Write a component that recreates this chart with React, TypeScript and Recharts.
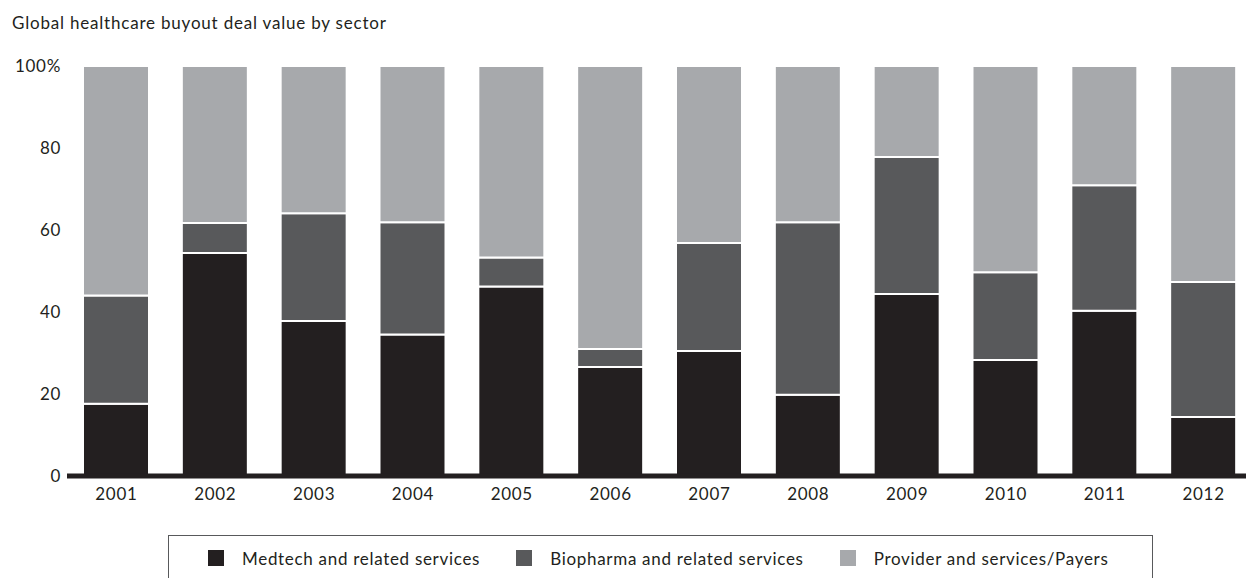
import React from 'react';
import { BarChart, Bar, XAxis, YAxis } from 'recharts';

const YEARS = ['2001', '2002', '2003', '2004', '2005', '2006', '2007', '2008', '2009', '2010', '2011', '2012'];
const MEDTECH = [17.6, 54.4, 37.8, 34.5, 46.2, 26.6, 30.5, 19.8, 44.4, 28.3, 40.3, 14.4];
const BIOPHARMA = [26.4, 7.3, 26.3, 27.4, 7.1, 4.4, 26.3, 42.1, 33.4, 21.4, 30.6, 32.9];
const PROVIDER = [56.0, 38.3, 35.9, 38.1, 46.7, 69.0, 43.2, 38.1, 22.2, 50.3, 29.1, 52.7];
const Y_TICKS = [0, 20, 40, 60, 80, 100];

const SERIES = [
  { key: 'medtech', name: 'Medtech and related services', color: '#231F20' },
  { key: 'biopharma', name: 'Biopharma and related services', color: '#58595B' },
  { key: 'provider', name: 'Provider and services/Payers', color: '#A7A9AC' },
];

const FONT = 'Lato, "Open Sans", sans-serif';
const INK = '#231F20';

const data = YEARS.map((year, i) => ({
  year,
  medtech: MEDTECH[i],
  biopharma: BIOPHARMA[i],
  provider: PROVIDER[i],
}));

export default function App() {
  return (
    <div
      style={{
        position: 'absolute',
        left: 0,
        top: 0,
        width: 1246,
        height: 578,
        overflow: 'hidden',
        background: '#fff',
        fontFamily: FONT,
        color: INK,
      }}
    >
      <div style={{ position: 'absolute', left: 12, top: 12, fontSize: 17, letterSpacing: 0.8, whiteSpace: 'nowrap' }}>
        Global healthcare buyout deal value by sector
      </div>
      <BarChart
        width={1260}
        height={530}
        data={data}
        margin={{ top: 66, right: 7, left: 0, bottom: 0 }}
        barSize={66}
      >
        <YAxis
          width={67}
          domain={[0, 100]}
          ticks={Y_TICKS}
          axisLine={false}
          tickLine={false}
          tickSize={0}
          tickMargin={6}
          tickFormatter={(v: number) => (v === 100 ? '100%' : String(v))}
          tick={{ fill: INK, fontSize: 17, fontFamily: FONT, letterSpacing: 0.7 }}
        />
        {SERIES.map((s) => (
          <Bar
            key={s.key}
            dataKey={s.key}
            name={s.name}
            stackId="a"
            fill={s.color}
            stroke="#fff"
            strokeWidth={2}
            isAnimationActive={false}
          />
        ))}
        <XAxis
          dataKey="year"
          height={54}
          axisLine={{ stroke: INK, strokeWidth: 5 }}
          tickLine={false}
          tickSize={0}
          tickMargin={12}
          tick={{ fill: INK, fontSize: 17, fontFamily: FONT, letterSpacing: 0.7 }}
        />
      </BarChart>
      <div
        style={{
          position: 'absolute',
          left: 168,
          top: 535,
          width: 985,
          height: 60,
          border: '1px solid #58595B',
          boxSizing: 'border-box',
          display: 'flex',
          alignItems: 'flex-start',
          paddingTop: 14,
          paddingLeft: 39,
          fontSize: 17,
          letterSpacing: 0.7,
        }}
      >
        {SERIES.map((s) => (
          <div key={s.key} style={{ display: 'flex', alignItems: 'center', height: 16, marginRight: 36 }}>
            <span style={{ display: 'inline-block', width: 16, height: 16, background: s.color, marginRight: 18 }} />
            <span style={{ whiteSpace: 'nowrap' }}>{s.name}</span>
          </div>
        ))}
      </div>
    </div>
  );
}
